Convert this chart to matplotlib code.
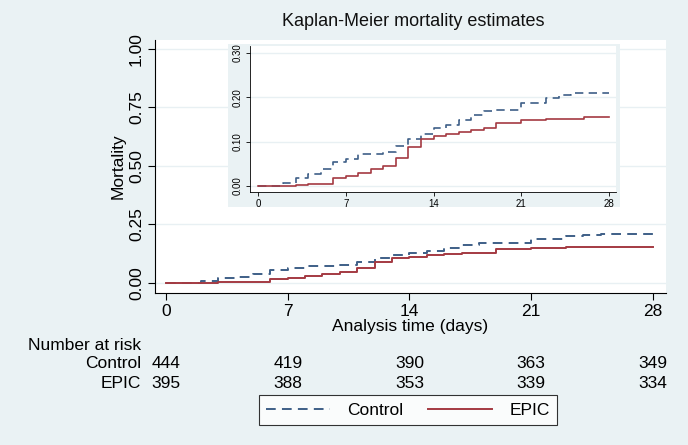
import matplotlib
matplotlib.use('Agg')
import matplotlib.pyplot as plt
from matplotlib.lines import Line2D
from matplotlib.transforms import blended_transform_factory

plt.rcParams['font.family'] = ['Liberation Sans', 'DejaVu Sans']

# Kaplan-Meier step data (day, cumulative mortality)
ctrl_days = [0, 2, 3, 4, 5, 6, 7, 8, 10, 11, 12, 13, 14, 15, 16, 17, 18, 19, 21, 23, 24, 25, 27, 28]
ctrl_mort = [0, 0.007, 0.019, 0.026, 0.038, 0.054, 0.062, 0.073, 0.076, 0.090, 0.107, 0.118,
             0.130, 0.137, 0.148, 0.160, 0.170, 0.172, 0.188, 0.199, 0.205, 0.209, 0.211, 0.211]
epic_days = [0, 3, 4, 6, 7, 8, 9, 10, 11, 12, 13, 14, 15, 16, 17, 18, 19, 21, 23, 26, 28]
epic_mort = [0, 0.002, 0.005, 0.018, 0.023, 0.030, 0.038, 0.045, 0.064, 0.088, 0.106, 0.112,
             0.118, 0.122, 0.127, 0.130, 0.143, 0.149, 0.152, 0.155, 0.155]

risk_days = [0, 7, 14, 21, 28]
risk_ctrl = [444, 419, 390, 363, 349]
risk_epic = [395, 388, 353, 339, 334]

main_yticks = [0, 0.25, 0.5, 0.75, 1.0]
inset_yticks = [0, 0.1, 0.2, 0.3]

bg = '#EAF2F4'
blue = '#3E5F87'
red = '#A43A42'
grid = '#E8F0F3'
fs = 12.5

W, H = 688, 445
fig = plt.figure(figsize=(W / 100, H / 100), dpi=100, facecolor=bg)


def px_axes(l, t, r, b):
    return fig.add_axes([l / W, 1 - b / H, (r - l) / W, (b - t) / H])


# main plot
ax = px_axes(155, 40, 666, 293)
ax.set_facecolor('white')
ax.step(ctrl_days, ctrl_mort, where='post', color=blue, lw=1.4, dashes=(5, 3.2))
ax.step(epic_days, epic_mort, where='post', color=red, lw=1.4)
ax.set_xlim(-0.63, 28.75)
ax.set_ylim(-0.043, 1.038)
ax.set_xticks(risk_days)
ax.set_yticks(main_yticks)
ax.set_yticklabels(['%.2f' % v for v in main_yticks], rotation=90, va='center')
for y in main_yticks:
    ax.axhline(y, color=grid, lw=1, zorder=0)
for s in ['top', 'right']:
    ax.spines[s].set_visible(False)
for s in ['left', 'bottom']:
    ax.spines[s].set_color('black')
    ax.spines[s].set_linewidth(0.8)
ax.tick_params(labelsize=fs, length=5, width=0.8, colors='black', pad=3)
ax.set_xlabel('Analysis time (days)', fontsize=fs, labelpad=0)
ax.set_ylabel('Mortality', fontsize=fs, labelpad=2)
fig.text(0.6, 1 - 22 / H, 'Kaplan-Meier mortality estimates', fontsize=13,
         ha='center', va='center', color='#111111')

# inset
bg_ax = px_axes(228, 44, 620, 207)
bg_ax.set_facecolor(bg)
bg_ax.set_xticks([])
bg_ax.set_yticks([])
for s in bg_ax.spines.values():
    s.set_visible(False)

ins = px_axes(250, 46, 616, 192)
ins.set_facecolor('white')
ins.step(ctrl_days, ctrl_mort, where='post', color=blue, lw=1.2, dashes=(5, 3.2))
ins.step(epic_days, epic_mort, where='post', color=red, lw=1.2)
ins.set_xlim(-0.64, 28.56)
ins.set_ylim(-0.0135, 0.316)
ins.set_xticks(risk_days)
ins.set_yticks(inset_yticks)
ins.set_yticklabels(['%.2f' % v for v in inset_yticks], rotation=90, va='center')
for y in inset_yticks:
    ins.axhline(y, color=grid, lw=1, zorder=0)
for s in ['top', 'right']:
    ins.spines[s].set_visible(False)
for s in ['left', 'bottom']:
    ins.spines[s].set_color('black')
    ins.spines[s].set_linewidth(0.6)
ins.tick_params(labelsize=7, length=3, width=0.6, pad=2, colors='black')

# number at risk table
tr = blended_transform_factory(ax.transData, fig.transFigure)
fig.text(28 / W, 1 - 346 / H, 'Number at risk', fontsize=fs, ha='left', va='center')
fig.text(141 / W, 1 - 364 / H, 'Control', fontsize=fs, ha='right', va='center')
fig.text(141 / W, 1 - 383 / H, 'EPIC', fontsize=fs, ha='right', va='center')
for d, c, e in zip(risk_days, risk_ctrl, risk_epic):
    ax.text(d, 1 - 364 / H, str(c), transform=tr, fontsize=fs, ha='center', va='center')
    ax.text(d, 1 - 383 / H, str(e), transform=tr, fontsize=fs, ha='center', va='center')

# legend
handles = [Line2D([], [], color=blue, lw=1.4, dashes=(5, 3.2)),
           Line2D([], [], color=red, lw=1.4)]
leg = fig.legend(handles, ['Control', 'EPIC'], loc='center', bbox_to_anchor=(408 / W, 1 - 410 / H),
                 ncol=2, fontsize=fs, frameon=True, fancybox=False, handlelength=3.7,
                 columnspacing=1.4, handletextpad=1.0, borderpad=0.4)
leg.get_frame().set_edgecolor('black')
leg.get_frame().set_linewidth(0.8)

fig.savefig('out.png', dpi=100, facecolor=bg)
